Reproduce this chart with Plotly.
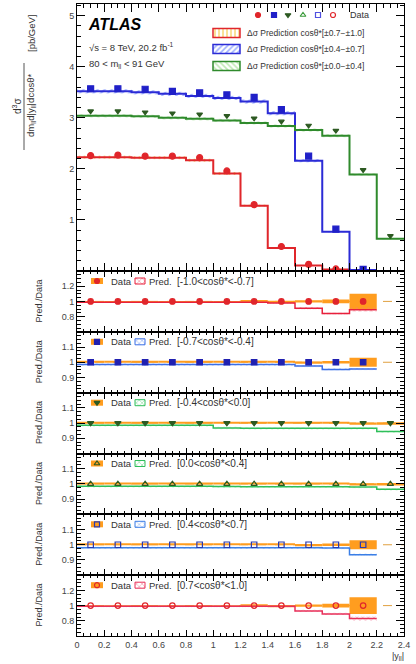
import plotly.graph_objects as go

# ---------------- data ----------------
bin_edges = [0.0, 0.2, 0.4, 0.6, 0.8, 1.0, 1.2, 1.4, 1.6, 1.8, 2.0, 2.2, 2.4]

red_data = [2.26, 2.27, 2.25, 2.25, 2.22, 1.96, 1.30, 0.48, 0.13, 0.04, 0.005]
red_pred = [2.23, 2.23, 2.22, 2.22, 2.17, 1.91, 1.28, 0.45, 0.11, 0.03, 0.004]
red_unc = [0.03, 0.03, 0.03, 0.03, 0.03, 0.03, 0.02, 0.01, 0.005, 0.003, 0.002]

blue_data = [3.57, 3.57, 3.56, 3.52, 3.49, 3.45, 3.40, 3.16, 2.25, 0.82, 0.03]
blue_pred = [3.52, 3.52, 3.50, 3.47, 3.43, 3.39, 3.32, 3.09, 2.16, 0.77, 0.02]
blue_unc = [0.04, 0.04, 0.04, 0.04, 0.04, 0.04, 0.04, 0.04, 0.03, 0.01, 0.003]

green_data = [3.13, 3.13, 3.11, 3.09, 3.07, 3.04, 2.99, 2.93, 2.85, 2.75, 1.98, 0.69]
green_pred = [3.04, 3.04, 3.03, 3.00, 2.98, 2.95, 2.90, 2.84, 2.76, 2.65, 1.89, 0.63]
green_unc = [0.03, 0.03, 0.03, 0.03, 0.03, 0.03, 0.03, 0.03, 0.03, 0.03, 0.02, 0.01]

ratio_labels = ["[-1.0<cosθ*<-0.7]", "[-0.7<cosθ*<-0.4]", "[-0.4<cosθ*<0.0]",
                "[0.0<cosθ*<0.4]", "[0.4<cosθ*<0.7]", "[0.7<cosθ*<1.0]"]

ratio_pred_1 = [0.99, 0.99, 0.99, 0.99, 0.99, 0.99, 0.99, 0.98, 0.91, 0.84, 0.89]
ratio_pred_2 = [0.985, 0.985, 0.985, 0.985, 0.985, 0.985, 0.985, 0.985, 0.975, 0.953, 0.955]
ratio_pred_3 = [0.986, 0.986, 0.986, 0.986, 0.986, 0.968, 0.966, 0.966, 0.966, 0.966, 0.966, 0.944]
ratio_pred_4 = [0.985, 0.985, 0.985, 0.985, 0.985, 0.983, 0.982, 0.982, 0.982, 0.982, 0.98, 0.965]
ratio_pred_5 = [0.98, 0.98, 0.98, 0.98, 0.98, 0.98, 0.98, 0.98, 0.98, 0.978, 0.935]
ratio_pred_6 = [0.99, 0.99, 0.99, 0.99, 0.99, 0.99, 0.99, 0.99, 0.93, 0.89, 0.83]

ratio_pred_unc_1 = [0.012, 0.012, 0.012, 0.012, 0.012, 0.012, 0.012, 0.012, 0.015, 0.015, 0.03]
ratio_pred_unc_2 = [0.008] * 11
ratio_pred_unc_3 = [0.008] * 12
ratio_pred_unc_4 = [0.008] * 12
ratio_pred_unc_5 = [0.008] * 11
ratio_pred_unc_6 = [0.012, 0.012, 0.012, 0.012, 0.012, 0.012, 0.012, 0.012, 0.015, 0.015, 0.03]

ratio_data_err_1 = [0.005, 0.005, 0.005, 0.005, 0.005, 0.005, 0.006, 0.008, 0.015, 0.025, 0.10]
ratio_data_err_2 = [0.003, 0.003, 0.003, 0.003, 0.003, 0.003, 0.003, 0.003, 0.005, 0.008, 0.03]
ratio_data_err_3 = [0.003, 0.003, 0.003, 0.003, 0.003, 0.003, 0.003, 0.003, 0.003, 0.003, 0.004, 0.006]
ratio_data_err_4 = [0.003, 0.003, 0.003, 0.003, 0.003, 0.003, 0.003, 0.003, 0.003, 0.003, 0.004, 0.006]
ratio_data_err_5 = [0.003, 0.003, 0.003, 0.003, 0.003, 0.003, 0.003, 0.003, 0.005, 0.008, 0.03]
ratio_data_err_6 = [0.005, 0.005, 0.005, 0.005, 0.005, 0.005, 0.006, 0.008, 0.015, 0.025, 0.11]

# ---------------- styling ----------------
RED, BLUE, GREEN = "#e0262b", "#2b2bd6", "#2f8a2c"
GREEN_MK = "#2d5a22"
ORANGE = "#ff9d1f"
FONT = "Liberation Sans"

W, H = 416, 664
L, R, T, B = 77, 404, 4, 636
bounds = [4, 271, 331.8, 392.7, 453.5, 514.3, 575.2, 636]


def fx(px):
    return (px - L) / (R - L)


def fy(py):
    return (B - py) / (B - T)


centers = [(bin_edges[i] + bin_edges[i + 1]) / 2 for i in range(len(bin_edges) - 1)]

fig = go.Figure()


def step_xy(vals):
    n = len(vals)
    return bin_edges[: n + 1], list(vals) + [vals[-1]]


def add_band(vals, unc, xa, ya, shape, fg, size=5):
    n = len(vals)
    fig.add_trace(go.Bar(
        x=centers[:n], y=[2 * u for u in unc], base=[v - u for v, u in zip(vals, unc)],
        width=0.2, xaxis=xa, yaxis=ya,
        marker=dict(color="rgba(0,0,0,0)", line=dict(width=0),
                    pattern=dict(shape=shape, fgcolor=fg, bgcolor="rgba(0,0,0,0)", size=size, solidity=0.35)),
        hoverinfo="skip"))


def add_step(vals, xa, ya, color, width=2):
    xs, ys = step_xy(vals)
    fig.add_trace(go.Scatter(x=xs, y=ys, mode="lines", line=dict(color=color, width=width, shape="hv"),
                             xaxis=xa, yaxis=ya, hoverinfo="skip"))


def add_markers(xs, ys, xa, ya, symbol, color, size):
    fig.add_trace(go.Scatter(x=xs, y=ys, mode="markers", xaxis=xa, yaxis=ya,
                             marker=dict(symbol=symbol, color=color, size=size,
                                         line=dict(color=color, width=1.2))))


# ---- main panel ----
main_series = [
    (red_pred, red_unc, red_data, RED, "#f2b400", "|", "circle", RED, 6),
    (blue_pred, blue_unc, blue_data, BLUE, "#3a5cff", "/", "square", "#2020c8", 6),
    (green_pred, green_unc, green_data, GREEN, "#7fd36a", "\\", "triangle-down", GREEN_MK, 5),
]
for pred, unc, dat, col, hcol, hshape, sym, mcol, msz in main_series:
    add_band(pred, unc, "x", "y", hshape, hcol)
    add_step(pred, "x", "y", col)
    add_markers(centers[: len(dat)], dat, "x", "y", sym, mcol, msz)

# ---- ratio panels ----
ratio_preds = [ratio_pred_1, ratio_pred_2, ratio_pred_3, ratio_pred_4, ratio_pred_5, ratio_pred_6]
ratio_pred_uncs = [ratio_pred_unc_1, ratio_pred_unc_2, ratio_pred_unc_3, ratio_pred_unc_4, ratio_pred_unc_5, ratio_pred_unc_6]
ratio_data_errs = [ratio_data_err_1, ratio_data_err_2, ratio_data_err_3, ratio_data_err_4, ratio_data_err_5, ratio_data_err_6]
ratio_colors = ["#e8203c", "#3b6fe6", "#2fbf5a", "#2fbf5a", "#3b7fe6", "#e8305a"]
ratio_hatch = ["#f07a8c", "#8fb0ff", "#8be6a2", "#8be6a2", "#8fbaff", "#f07a98"]
ratio_symbols = ["circle", "square", "triangle-down", "triangle-up-open", "square-open", "circle-open"]
ratio_mcolors = [RED, "#2020b0", GREEN_MK, GREEN_MK, "#2a3ab0", RED]

for k in range(6):
    xa, ya = "x%d" % (k + 2), "y%d" % (k + 2)
    derr = ratio_data_errs[k]
    n = len(derr)
    fig.add_trace(go.Bar(x=centers[:n], y=[2 * e for e in derr], base=[1 - e for e in derr], width=0.2,
                         xaxis=xa, yaxis=ya, marker=dict(color=ORANGE, line=dict(width=0)), hoverinfo="skip"))
    add_band(ratio_preds[k], ratio_pred_uncs[k], xa, ya, "x", ratio_hatch[k], size=4)
    add_step(ratio_preds[k], xa, ya, ratio_colors[k], width=1.5)
    add_markers(centers[:n], [1.0] * n, xa, ya, ratio_symbols[k], ratio_mcolors[k], 5.5)
    fig.add_shape(type="line", x0=0, x1=2.4, y0=1, y1=1, xref=xa, yref=ya,
                  line=dict(color="#e0a040", width=1, dash="dash"), layer="below")

# ---- overlay legend axis (paper-like coordinates) ----
OV = ("x8", "y8")
leg_syms = ["circle", "square", "triangle-down", "triangle-up-open", "square-open", "circle-open"]
leg_cols = [RED, "#2020c8", GREEN_MK, "#3a9a3a", "#5050e0", RED]
leg_px = [258, 274, 288, 303, 318, 333]
for s, c, p in zip(leg_syms, leg_cols, leg_px):
    add_markers([fx(p)], [fy(15)], *OV, s, c, 5)

sw = [(33, RED, "#f2b400", "|"), (49, BLUE, "#3a5cff", "/"), (66, GREEN, "#7fd36a", "\\")]
for yc, lc, hc, hs in sw:
    fig.add_trace(go.Bar(x=[fx(226.5)], y=[fy(yc - 4.5) - fy(yc + 4.5)], base=[fy(yc + 4.5)],
                         width=fx(240) - fx(213), xaxis="x8", yaxis="y8",
                         marker=dict(color="white", line=dict(color=lc, width=1.5),
                                     pattern=dict(shape=hs, fgcolor=hc, bgcolor="white", size=4, solidity=0.4)),
                         hoverinfo="skip"))

for k in range(6):
    yc = bounds[k + 1] + 10
    fig.add_trace(go.Bar(x=[fx(97)], y=[fy(yc - 3) - fy(yc + 3)], base=[fy(yc + 3)],
                         width=fx(103) - fx(91), xaxis="x8", yaxis="y8",
                         marker=dict(color=ORANGE, line=dict(width=0)), hoverinfo="skip"))
    add_markers([fx(97)], [fy(yc)], *OV, ratio_symbols[k], ratio_mcolors[k], 5)
    fig.add_trace(go.Bar(x=[fx(140)], y=[fy(yc - 3) - fy(yc + 3)], base=[fy(yc + 3)],
                         width=fx(145) - fx(135), xaxis="x8", yaxis="y8",
                         marker=dict(color="white", line=dict(color=ratio_colors[k], width=1),
                                     pattern=dict(shape="x", fgcolor=ratio_colors[k], bgcolor="white", size=4, solidity=0.3)),
                         hoverinfo="skip"))

# ---------------- annotations ----------------
ann = []


def text(px, py, s, size=10, color="#333", xanchor="left", angle=0, **kw):
    ann.append(dict(x=fx(px), y=fy(py), xref="paper", yref="paper", text=s, showarrow=False,
                    xanchor=xanchor, yanchor="middle", textangle=angle,
                    font=dict(family=FONT, size=size, color=color), **kw))


text(86, 25, "<b><i>ATLAS</i></b>", size=16, color="black")
text(87, 47, "√s = 8 TeV, 20.2 fb<sup>-1</sup>", size=9.5)
text(87, 64, "80 &lt; m<sub>ll</sub> &lt; 91 GeV", size=9.5)
text(348, 15, "Data", size=9)
for yc, lab in zip([33, 49, 66], ["[±0.7−±1.0]", "[±0.4−±0.7]", "[±0.0−±0.4]"]):
    text(245, yc, "Δσ Prediction cosθ*" + lab, size=8.5)

for k in range(6):
    yc = bounds[k + 1] + 10
    text(109, yc, "Data", size=9.5)
    text(147, yc, "Pred.", size=9.5)
    text(175, yc, ratio_labels[k].replace("<", "&lt;"), size=10)
    text(39, (bounds[k + 1] + bounds[k + 2]) / 2, "Pred./Data", size=9, xanchor="center", angle=-90)

# y-axis title of main panel (fraction)
text(17, 106, "d<sup>3</sup>σ", size=10, color="#333", xanchor="center", angle=-90)
text(31, 106, "dm<sub>ll</sub>d|y<sub>ll</sub>|dcosθ*", size=9.5, color="#333", xanchor="center", angle=-90)
text(31, 33, "[pb/GeV]", size=9.5, color="#333", xanchor="center", angle=-90)
text(398, 656, "|y<sub>ll</sub>|", size=9, xanchor="center")

fig.add_shape(type="line", xref="paper", yref="paper", x0=fx(24), x1=fx(24), y0=fy(63), y1=fy(150),
              line=dict(color="#555", width=1))

# ---------------- axes ----------------
axis_common = dict(showline=True, linecolor="black", linewidth=1, mirror="allticks", ticks="inside",
                   tickcolor="black", showgrid=False, zeroline=False,
                   tickfont=dict(family=FONT, size=9, color="#444"))

layout = dict(
    width=W, height=H, margin=dict(l=L, r=W - R, t=T, b=H - B),
    paper_bgcolor="white", plot_bgcolor="rgba(0,0,0,0)", showlegend=False, barmode="overlay",
    font=dict(family=FONT), annotations=ann,
)

layout["xaxis"] = dict(axis_common, domain=[0, 1], range=[0, 2.4], anchor="y", dtick=0.2, ticklen=8,
                       showticklabels=False, minor=dict(ticks="inside", dtick=0.05, ticklen=4, tickcolor="black"))
layout["yaxis"] = dict(axis_common, domain=[fy(bounds[1]), 1], range=[0, 5.23], anchor="x",
                       tickvals=[1, 2, 3, 4, 5], ticklen=8,
                       minor=dict(ticks="inside", dtick=0.2, ticklen=4, tickcolor="black"))

for k in range(6):
    i = k + 2
    wide = k in (0, 5)
    layout["xaxis%d" % i] = dict(axis_common, domain=[0, 1], range=[0, 2.4], anchor="y%d" % i, dtick=0.2,
                                 ticklen=6, showticklabels=(k == 5), tickformat="~g",
                                 ticklabeloverflow="allow",
                                 minor=dict(ticks="inside", dtick=0.05, ticklen=3, tickcolor="black"))
    layout["yaxis%d" % i] = dict(axis_common, domain=[fy(bounds[k + 2]), fy(bounds[k + 1])],
                                 range=[0.6, 1.4] if wide else [0.8, 1.2], anchor="x%d" % i,
                                 tickvals=[0.8, 1, 1.2] if wide else [0.9, 1, 1.1], ticklen=8,
                                 minor=dict(ticks="inside", dtick=0.05 if wide else 0.025, ticklen=4,
                                            tickcolor="black"))

layout["xaxis8"] = dict(domain=[0, 1], range=[0, 1], visible=False, anchor="y8", fixedrange=True)
layout["yaxis8"] = dict(domain=[0, 1], range=[0, 1], visible=False, anchor="x8", fixedrange=True)

fig.update_layout(**layout)
fig.write_html("out.html", config={"displayModeBar": False},
               post_script="document.body.style.margin='0px';document.body.style.overflow='hidden';")
